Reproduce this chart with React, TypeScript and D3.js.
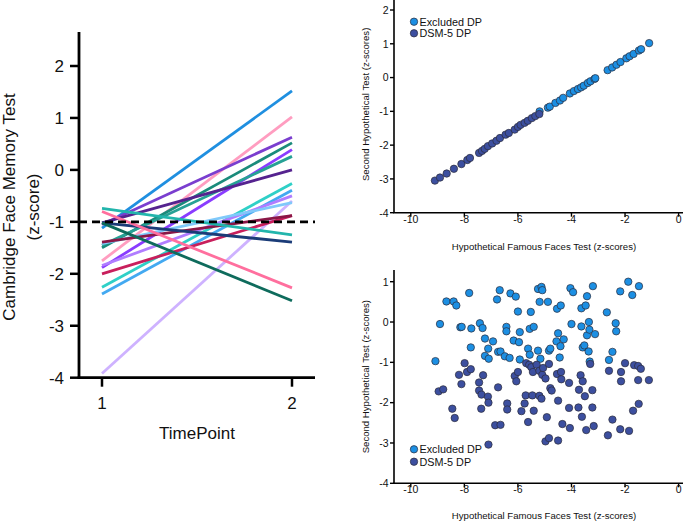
import React from "react";
import * as d3 from "d3";

// ---------- Left panel: Cambridge Face Memory Test, two time points ----------
const timePoints = [1, 2];
const cfmtT1 = [-1.12, -1.75, -1.05, -1.5, -1.88, -1.45, -1.02, -2.26, -2.39, -1.84, -3.92, -1.42, -2.0, -1.39, -0.74, -1.02, -0.8, -1.02];
const cfmtT2 = [1.52, 1.02, 0.63, 0.52, 0.39, 0.26, 0.0, -0.26, -0.39, -0.5, -0.6, -0.63, -0.88, -0.88, -1.25, -1.39, -2.27, -2.52];
const lineColors = ["#1f8fe0", "#ff9dc0", "#7a3ecf", "#1a8b7b", "#8a3cff", "#26a195", "#55238f", "#2fd0c7", "#43a9f1", "#b07dff", "#ceb2ff", "#80c9fa", "#c81f5c", "#8a1746", "#22b5ac", "#1b3c78", "#ff6f9e", "#0e6b5c"];
const cfmtTicks = [-4, -3, -2, -1, 0, 1, 2];
const cutoff = -1;

// ---------- Top right: perfectly correlated demo ----------
const topExcludedX = [-5.19, -4.88, -4.81, -4.6, -4.43, -4.31, -4.06, -3.91, -3.76, -3.64, -3.54, -3.39, -3.29, -3.14, -3.11, -2.65, -2.48, -2.32, -2.17, -1.95, -1.83, -1.68, -1.48, -1.4, -1.1];
const topExcludedY = [-1.0, -0.89, -0.86, -0.75, -0.68, -0.6, -0.47, -0.4, -0.34, -0.29, -0.24, -0.16, -0.11, -0.04, -0.02, 0.22, 0.3, 0.38, 0.46, 0.57, 0.63, 0.7, 0.8, 0.84, 1.02];
const topDsmX = [-9.1, -8.91, -8.66, -8.39, -8.11, -7.89, -7.79, -7.45, -7.34, -7.24, -7.12, -6.96, -6.8, -6.67, -6.46, -6.34, -6.12, -6.0, -5.9, -5.75, -5.63, -5.48, -5.35, -5.2];
const topDsmY = [-3.05, -2.96, -2.84, -2.7, -2.56, -2.44, -2.38, -2.23, -2.17, -2.11, -2.03, -1.95, -1.87, -1.79, -1.69, -1.64, -1.54, -1.46, -1.4, -1.34, -1.28, -1.2, -1.14, -1.08];

// ---------- Bottom right: uncorrelated demo ----------
const botExcludedX = [-9.08, -8.91, -8.67, -8.4, -8.3, -7.82, -8.15, -8.1, -7.74, -7.76, -7.42, -7.32, -7.23, -7.23, -7.11, -7.09, -6.93, -6.78, -6.68, -6.74, -6.65, -6.49, -6.43, -6.43, -6.28, -6.31, -6.08, -6.16, -6.0, -5.93, -5.96, -5.93, -5.62, -5.56, -5.52, -5.56, -5.41, -5.25, -5.12, -5.09, -5.19, -5.25, -5.16, -4.88, -4.84, -4.79, -4.54, -4.4, -4.5, -4.56, -4.29, -4.41, -4.44, -4.04, -3.94, -4.0, -3.63, -3.63, -3.47, -3.42, -3.58, -3.52, -3.42, -3.36, -3.35, -3.33, -3.2, -3.12, -3.32, -2.68, -2.6, -2.47, -2.35, -2.33, -2.18, -1.88, -1.73, -1.48];
const botExcludedY = [-0.97, -0.05, 0.51, 0.51, 0.41, 0.72, -0.13, -0.12, -0.16, -0.63, -0.03, -0.15, -0.41, -0.84, -0.66, -0.91, -0.48, 0.56, 0.79, -0.74, -0.73, -0.85, -0.12, -0.23, 0.71, -0.89, 0.63, -0.46, 0.26, -0.25, -0.5, -0.93, -0.66, -0.81, 0.25, -0.17, -0.12, 0.82, 0.87, 0.79, 0.5, -0.71, -0.91, 0.5, -0.71, -0.66, 0.33, 0.41, -0.28, -0.48, -0.43, -0.6, -0.88, 0.84, 0.74, -0.05, -0.11, 0.34, 0.41, 0.64, -0.63, -0.58, -0.33, -0.73, 0.0, -0.19, 0.89, -0.3, -0.98, 0.24, -0.94, -0.74, -0.03, -0.23, 0.76, 1.0, 0.67, 0.89];
const botDsmX = [-8.96, -8.79, -8.45, -8.36, -8.2, -8.11, -7.99, -7.9, -7.76, -7.45, -7.3, -7.45, -7.36, -7.37, -7.12, -7.1, -7.1, -6.85, -6.65, -6.74, -6.4, -6.4, -6.12, -6.06, -6.0, -5.87, -5.75, -5.71, -5.69, -5.62, -5.58, -5.5, -5.46, -5.41, -5.44, -5.3, -5.2, -5.2, -5.12, -5.09, -5.06, -4.97, -4.84, -4.92, -4.97, -4.84, -4.79, -4.74, -4.54, -4.5, -4.5, -4.39, -4.38, -4.34, -4.09, -4.09, -4.06, -3.74, -3.72, -3.66, -3.58, -3.61, -3.5, -3.45, -3.3, -3.22, -3.22, -3.17, -2.6, -2.64, -2.47, -2.15, -2.15, -2.18, -2.0, -1.85, -1.7, -1.66, -1.51, -1.51, -1.49, -1.41, -1.11];
const botDsmY = [-1.72, -1.67, -2.15, -2.38, -1.31, -1.54, -1.02, -1.24, -1.17, -1.5, -1.32, -1.7, -1.8, -2.15, -1.85, -2.0, -3.04, -2.56, -2.55, -1.62, -2.02, -2.17, -1.34, -1.47, -1.24, -2.21, -2.02, -1.82, -1.02, -2.48, -1.06, -1.12, -1.82, -2.2, -1.24, -1.06, -1.21, -1.83, -1.9, -1.31, -1.14, -1.4, -1.04, -2.36, -2.96, -2.88, -1.64, -1.7, -1.29, -1.95, -2.94, -1.24, -1.42, -2.53, -1.51, -2.13, -2.63, -2.12, -1.68, -1.32, -1.47, -2.35, -1.84, -2.68, -1.04, -1.69, -2.12, -2.58, -1.21, -2.81, -2.42, -1.24, -1.47, -2.66, -1.02, -2.7, -2.2, -1.07, -1.09, -1.44, -2.03, -1.16, -1.44];

const xTicksScatter = [-10, -8, -6, -4, -2, 0];
const yTicksTop = [-4, -3, -2, -1, 0, 1, 2];
const yTicksBot = [-4, -3, -2, -1, 0, 1];
const groupNames = ["Excluded DP", "DSM-5 DP"];
const groupColors = ["#1c8fe3", "#3c4f9f"];

const FONT = "'Liberation Sans', Arial, Helvetica, sans-serif";

function Scatter({ top, yDomain, yRange, axisTopY, ex, ey, dx, dy, yTicks, legendY, xLabelY }: any) {
  const x = d3.scaleLinear().domain([-10, 0]).range([410.8, 678.6]);
  const y = d3.scaleLinear().domain(yDomain).range(yRange);
  const axisX = 394;
  const axisBottom = y(-4);
  const r = 3.7;
  return (
    <g>
      {/* points */}
      {ex.map((v: number, i: number) => (
        <circle key={"e" + i} cx={x(v)} cy={y(ey[i])} r={r} fill={groupColors[0]} stroke="#2b2b3a" strokeWidth={0.7} />
      ))}
      {dx.map((v: number, i: number) => (
        <circle key={"d" + i} cx={x(v)} cy={y(dy[i])} r={r} fill={groupColors[1]} stroke="#2b2b3a" strokeWidth={0.7} />
      ))}
      {/* axes */}
      <line x1={axisX} x2={axisX} y1={axisTopY} y2={axisBottom} stroke="#000" strokeWidth={1.6} />
      <line x1={axisX - 0.8} x2={683} y1={axisBottom} y2={axisBottom} stroke="#000" strokeWidth={1.6} />
      {yTicks.map((t: number) => (
        <g key={"yt" + t}>
          <line x1={axisX - 4} x2={axisX} y1={y(t)} y2={y(t)} stroke="#000" strokeWidth={1.4} />
          <text x={axisX - 5.5} y={y(t) + 3.8} textAnchor="end" fontSize={10.5} fontFamily={FONT} fill="#111">{t}</text>
        </g>
      ))}
      {xTicksScatter.map((t) => (
        <g key={"xt" + t}>
          <line x1={x(t)} x2={x(t)} y1={axisBottom} y2={axisBottom + 4} stroke="#000" strokeWidth={1.4} />
          <text x={x(t)} y={axisBottom + 10} textAnchor="middle" fontSize={10.5} fontFamily={FONT} fill="#111">{t}</text>
        </g>
      ))}
      <text x={544} y={xLabelY + 3.5} textAnchor="middle" fontSize={9.6} fontFamily={FONT} fill="#111">Hypothetical Famous Faces Test (z-scores)</text>
      <text transform={`translate(${368.5},${(axisTopY + axisBottom) / 2 + (top ? -2 : 0)}) rotate(-90)`} textAnchor="middle" fontSize={9.6} fontFamily={FONT} fill="#111">Second Hypothetical Test (z-scores)</text>
      {/* legend */}
      {groupNames.map((g, i) => (
        <g key={g}>
          <circle cx={414} cy={legendY[i]} r={3.7} fill={groupColors[i]} stroke="#2b2b3a" strokeWidth={0.7} />
          <text x={419.5} y={legendY[i] + 3.8} fontSize={10.8} fontFamily={FONT} fill="#111">{g}</text>
        </g>
      ))}
    </g>
  );
}

export default function App() {
  const xL = d3.scaleLinear().domain([1, 2]).range([102, 292]);
  const yL = d3.scaleLinear().domain([-4, 2]).range([377.7, 66]);
  const axisLX = 79;
  const line = d3.line<[number, number]>().x((d) => xL(d[0])).y((d) => yL(d[1]));

  return (
    <svg width={685} height={523} style={{ position: "absolute", left: 0, top: 0, background: "#fff" }}>
      {/* Left panel lines */}
      {cfmtT1.map((v, i) => (
        <path key={i} d={line([[timePoints[0], v], [timePoints[1], cfmtT2[i]]]) || ""} stroke={lineColors[i]} strokeWidth={2.8} fill="none" />
      ))}
      <line x1={axisLX} x2={315} y1={yL(cutoff)} y2={yL(cutoff)} stroke="#000" strokeWidth={2.8} strokeDasharray="8,5" />
      {/* Left axes */}
      <line x1={axisLX} x2={axisLX} y1={32} y2={yL(-4) + 1.3} stroke="#000" strokeWidth={2.8} />
      <line x1={axisLX - 1.4} x2={315} y1={yL(-4)} y2={yL(-4)} stroke="#000" strokeWidth={2.8} />
      {cfmtTicks.map((t) => (
        <g key={"ly" + t}>
          <line x1={axisLX - 9} x2={axisLX} y1={yL(t)} y2={yL(t)} stroke="#000" strokeWidth={2.5} />
          <text x={64} y={yL(t) + 6} textAnchor="end" fontSize={17} fontFamily={FONT} fill="#111">{t}</text>
        </g>
      ))}
      {timePoints.map((t) => (
        <g key={"lx" + t}>
          <line x1={xL(t)} x2={xL(t)} y1={yL(-4)} y2={yL(-4) + 9} stroke="#000" strokeWidth={2.5} />
          <text x={xL(t)} y={409} textAnchor="middle" fontSize={17} fontFamily={FONT} fill="#111">{t}</text>
        </g>
      ))}
      <text x={197} y={439} textAnchor="middle" fontSize={17} fontFamily={FONT} fill="#111">TimePoint</text>
      <text transform={`translate(15,207) rotate(-90)`} textAnchor="middle" fontSize={17} fontFamily={FONT} fill="#111">Cambridge Face Memory Test</text>
      <text transform={`translate(39,207) rotate(-90)`} textAnchor="middle" fontSize={17} fontFamily={FONT} fill="#111">(z-score)</text>

      <Scatter top yDomain={[-4, 2]} yRange={[212.7, 10]} axisTopY={0} ex={topExcludedX} ey={topExcludedY} dx={topDsmX} dy={topDsmY} yTicks={yTicksTop} legendY={[21.7, 33.3]} xLabelY={246.7} />
      <Scatter yDomain={[-4, 1]} yRange={[483.3, 281.7]} axisTopY={270} ex={botExcludedX} ey={botExcludedY} dx={botDsmX} dy={botDsmY} yTicks={yTicksBot} legendY={[449.3, 461.7]} xLabelY={515.7} />
    </svg>
  );
}
